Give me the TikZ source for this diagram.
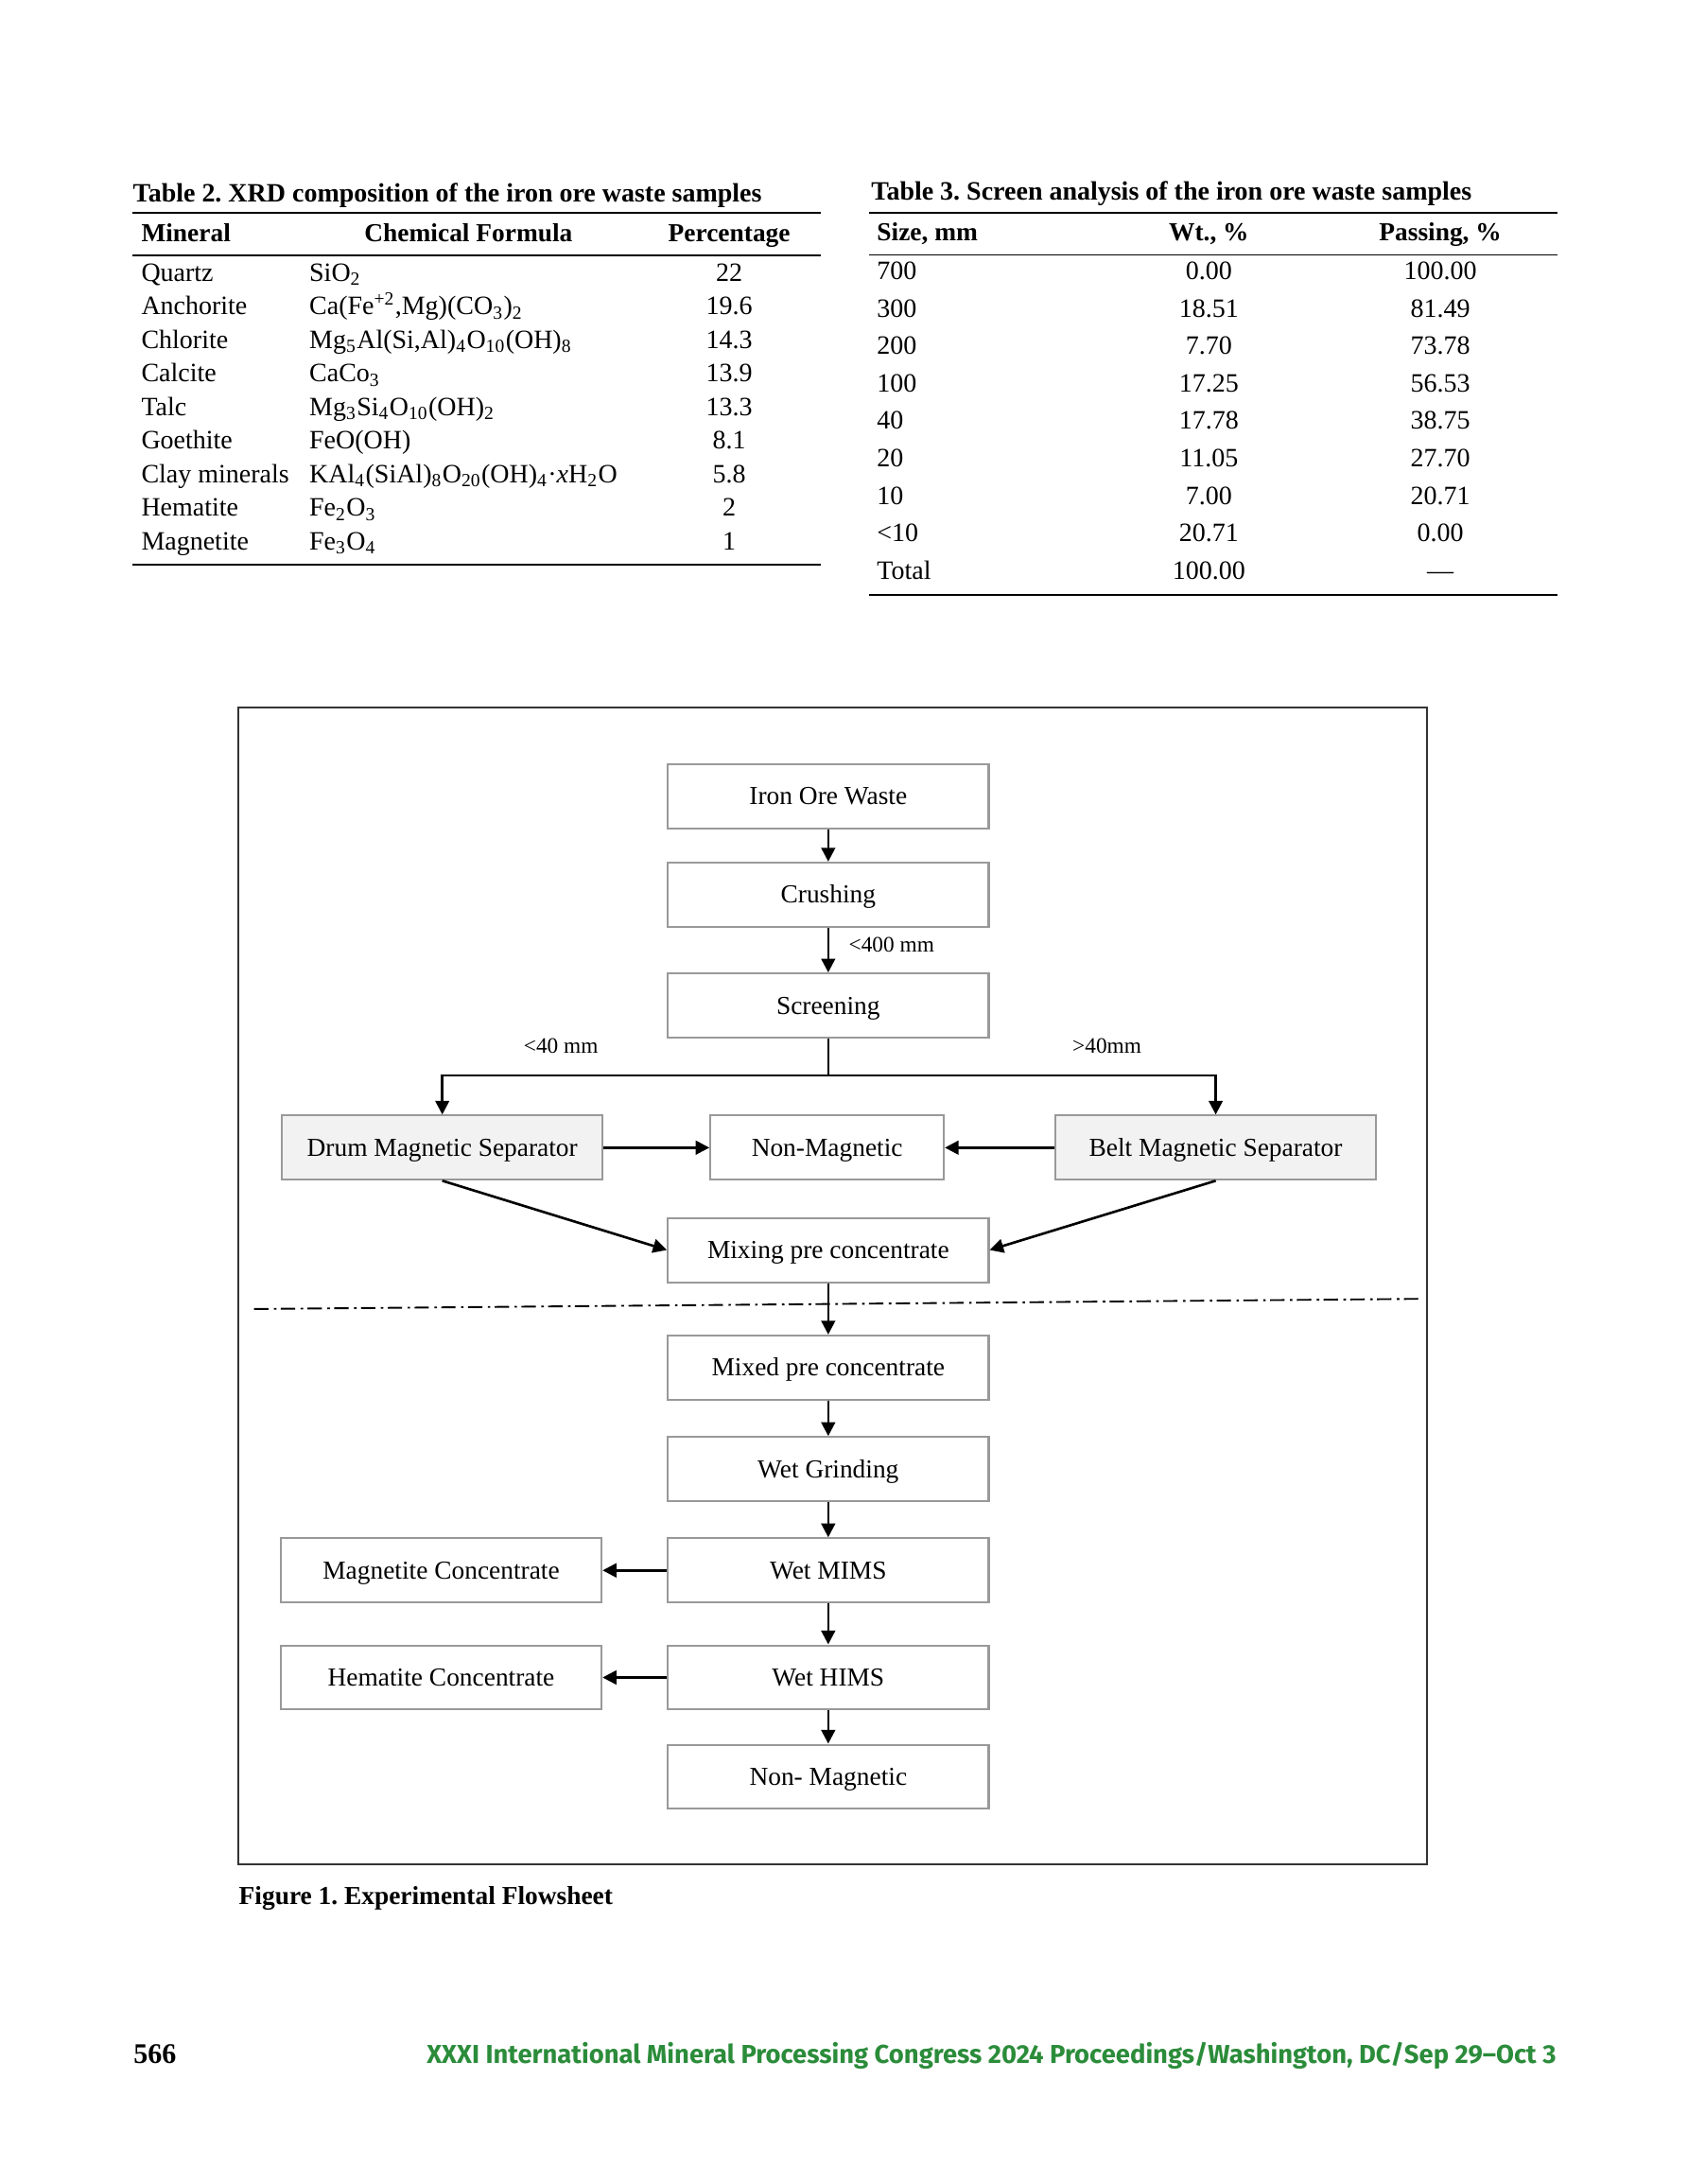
\documentclass[tikz,border=0pt]{standalone}
\usepackage{fontspec}
\setmainfont{Liberation Serif}
\newfontfamily\footfont{Fira Sans}
\usetikzlibrary{arrows.meta}
\definecolor{boxgray}{RGB}{153,153,153}
\definecolor{fillgray}{RGB}{242,242,242}
\definecolor{footgreen}{RGB}{43,140,58}
\definecolor{framegray}{RGB}{51,51,51}
\frenchspacing
\begin{document}
\begin{tikzpicture}[x=0.5058pt,y=-0.5058pt,
  tbl/.style={inner sep=0pt, anchor=base, font=\fontsize{9.6}{11}\selectfont},
  tblw/.style={tbl, anchor=base west},
  tblh/.style={inner sep=0pt, anchor=base, font=\fontsize{9.4}{11}\selectfont\bfseries},
  tblhw/.style={tblh, anchor=base west},
  tbltitle/.style={inner sep=0pt, anchor=base west, font=\fontsize{9.6}{11}\selectfont\bfseries},
  rulethick/.style={line width=0.8pt},
  rulethin/.style={line width=0.6pt},
  proc/.style={draw=boxgray, line width=0.7pt, fill=white, minimum width=116.4pt, minimum height=23.3pt, inner sep=0pt, text height=6.2pt, text depth=0pt, font=\fontsize{9.4}{11}\selectfont},
  sepbox/.style={proc, fill=fillgray},
  narrowproc/.style={proc, minimum width=84.7pt},
  arr/.style={line width=0.9pt, -{Triangle[length=5pt,width=5pt]}},
  flowline/.style={line width=0.9pt},
  lbl/.style={font=\fontsize{8}{9}\selectfont, inner sep=0pt},
  dashdotline/.style={line width=0.65pt, dash pattern=on 5.2pt off 2pt on 0.9pt off 1.6pt}
]
\useasboundingbox (0,0) rectangle (1210,1566);
\fill[white] (0,0) rectangle (1210,1566);

% ---------- Table 2 ----------
\node[tbltitle] (t2title) at (95,144.6) {Table 2. XRD composition of the iron ore waste samples};
\draw[rulethick] (95,152.6) -- (589,152.6);
\node[tblhw] (t2h1) at (101,173) {Mineral};
\node[tblh] (t2h2) at (336,173) {Chemical Formula};
\node[tblh] (t2h3) at (523,173) {Percentage};
\draw[rulethin] (95,183) -- (589,183);
\foreach \m/\f/\p [count=\i from 0] in {
  Quartz/{SiO\textsubscript{2}}/22,
  Anchorite/{Ca(Fe\textsuperscript{+2},Mg)(CO\textsubscript{3})\textsubscript{2}}/19.6,
  Chlorite/{Mg\textsubscript{5}Al(Si,Al)\textsubscript{4}O\textsubscript{10}(OH)\textsubscript{8}}/14.3,
  Calcite/{CaCo\textsubscript{3}}/13.9,
  Talc/{Mg\textsubscript{3}Si\textsubscript{4}O\textsubscript{10}(OH)\textsubscript{2}}/13.3,
  Goethite/{FeO(OH)}/8.1,
  Clay minerals/{KAl\textsubscript{4}(SiAl)\textsubscript{8}O\textsubscript{20}(OH)\textsubscript{4}·\textit{x}H\textsubscript{2}O}/5.8,
  Hematite/{Fe\textsubscript{2}O\textsubscript{3}}/2,
  Magnetite/{Fe\textsubscript{3}O\textsubscript{4}}/1}
{
  \node[tblw] (t2m\i) at (101,{201.6+24.1*\i}) {\m};
  \node[tblw] (t2f\i) at (221.5,{201.6+24.1*\i}) {\f};
  \node[tbl] (t2p\i) at (523,{201.6+24.1*\i}) {\p};
}
\draw[rulethick] (95,404.7) -- (589,404.7);

% ---------- Table 3 ----------
\node[tbltitle] (t3title) at (624.5,143.5) {Table 3. Screen analysis of the iron ore waste samples};
\draw[rulethick] (623.6,152.5) -- (1117,152.5);
\node[tblhw] (t3h1) at (628.6,172.6) {Size, mm};
\node[tblh] (t3h2) at (867,172.6) {Wt., \%};
\node[tblh] (t3h3) at (1033,172.6) {Passing, \%};
\draw[rulethin] (623.6,182.7) -- (1117,182.7);
\foreach \s/\w/\q [count=\i from 0] in {
  700/0.00/100.00, 300/18.51/81.49, 200/7.70/73.78, 100/17.25/56.53,
  40/17.78/38.75, 20/11.05/27.70, 10/7.00/20.71, {\textless10}/20.71/0.00, Total/100.00/—}
{
  \node[tblw] (t3s\i) at (628.6,{200.7+26.8*\i}) {\s};
  \node[tbl] (t3w\i) at (867,{200.7+26.8*\i}) {\w};
  \node[tbl] (t3q\i) at (1033,{200.7+26.8*\i}) {\q};
}
\draw[rulethick] (623.6,426.5) -- (1117,426.5);

% ---------- Figure frame ----------
\draw[framegray, line width=0.7pt] (171.1,507.2) rectangle (1023.6,1336.5);

% ---------- Flowsheet nodes ----------
\node[proc] (iow) at (594,570.8) {Iron Ore Waste};
\node[proc] (cru) at (594,641.5) {Crushing};
\node[proc] (scr) at (594,721) {Screening};
\node[sepbox] (drum) at (317.2,822.9) {Drum Magnetic Separator};
\node[narrowproc] (nonmag) at (593.2,822.9) {Non-Magnetic};
\node[sepbox] (belt) at (871.9,822.9) {Belt Magnetic Separator};
\node[proc] (mix) at (594,896.3) {Mixing pre concentrate};
\node[proc] (mixed) at (594,980.6) {Mixed pre concentrate};
\node[proc] (wg) at (594,1053.4) {Wet Grinding};
\node[proc] (mims) at (594,1126) {Wet MIMS};
\node[proc] (magc) at (316.4,1126) {Magnetite Concentrate};
\node[proc] (hims) at (594,1202.8) {Wet HIMS};
\node[proc] (hemc) at (316.4,1202.8) {Hematite Concentrate};
\node[proc] (nm2) at (594,1274) {Non- Magnetic};

% labels
\node[lbl, anchor=west] (l400) at (608.4,677.6) {\textless400 mm};
\node[lbl] (l40a) at (402.3,750.3) {\textless40 mm};
\node[lbl] (l40b) at (793.9,750.3) {\textgreater40mm};

% ---------- Connectors ----------
\coordinate (split) at (594,771.2);
\coordinate (dl) at (182.2,938.6);
\coordinate (dr) at (1018,931.3);
\draw[dashdotline] (dl) -- (dr);

\draw[arr] (iow) -- (cru);
\draw[arr] (cru) -- (scr);
\draw[flowline] (scr) -- (split);
\draw[arr] (split) -| (drum);
\draw[arr] (split) -| (belt);
\draw[arr] (drum) -- (nonmag);
\draw[arr] (belt) -- (nonmag);
\draw[arr] (drum.south) -- (mix.west);
\draw[arr] (belt.south) -- (mix.east);
\draw[arr] (mix) -- (mixed);
\draw[arr] (mixed) -- (wg);
\draw[arr] (wg) -- (mims);
\draw[arr] (mims) -- (hims);
\draw[arr] (hims) -- (nm2);
\draw[arr] (mims) -- (magc);
\draw[arr] (hims) -- (hemc);

% ---------- Caption & footer ----------
\node[inner sep=0pt, anchor=base west, font=\fontsize{9.4}{11}\selectfont\bfseries] (cap) at (171,1365.3) {Figure 1. Experimental Flowsheet};
\node[inner sep=0pt, anchor=base west, font=\fontsize{10.3}{12}\selectfont\bfseries] (pg) at (95.5,1479.6) {566};
\node[inner sep=0pt, anchor=base east, text=footgreen, font=\footfont\fontsize{9.4}{11}\selectfont\bfseries] (ft) at (1116.4,1479.6) {XXXI International Mineral Processing Congress 2024 Proceedings/Washington, DC/Sep 29–Oct 3};
\end{tikzpicture}
\end{document}
